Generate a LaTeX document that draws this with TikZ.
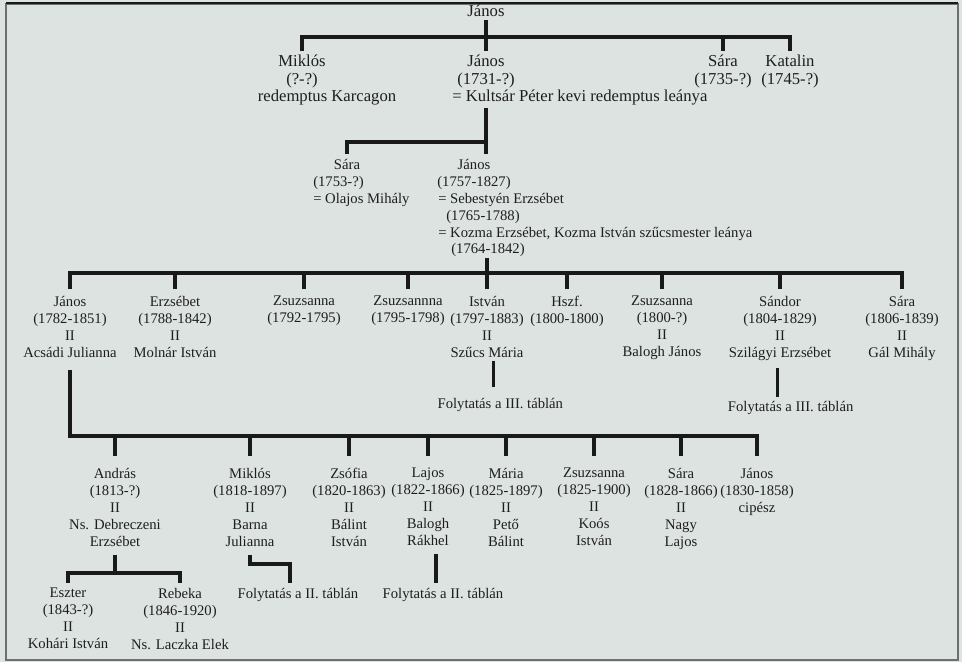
\documentclass[tikz,border=0pt]{standalone}
\usepackage{fontspec}
\setmainfont{Liberation Serif}
\usetikzlibrary{positioning}
\definecolor{paper}{RGB}{221,227,224}
\definecolor{ink}{RGB}{30,30,30}
\definecolor{wire}{RGB}{25,25,25}
\definecolor{frame}{RGB}{110,112,110}

\begin{document}
\begin{tikzpicture}[x=0.75pt, y=-0.75pt, node distance=30pt,
    person/.style={align=center, anchor=north, inner sep=0pt, text=ink,
        font=\fontsize{11}{12.75}\selectfont},
    elder/.style={person, font=\fontsize{12.5}{13.5}\selectfont},
    spouse/.style={person, anchor=north west, align=left},
    branch/.style={draw=wire, line width=2.6pt}
]
    \fill[paper] (0,0) rectangle (962,662);
    \useasboundingbox (0,0) rectangle (962,662);
    \draw[frame, line width=0.8pt] (6,4) rectangle (958,660);
    \draw[wire, line width=1.4pt] (6,3) -- (958,3);

    % bars of the generations
    \coordinate (bar0) at (0,37);
    \coordinate (bar1) at (0,142);
    \coordinate (bar2) at (0,273);
    \coordinate (bar3) at (0,436);
    \coordinate (bar4) at (0,573);

    % first two generations
    \node[elder] (root) at (486,5) {János};
    \node[elder] (miklosA) at (302,55) {Miklós\\(?-?)};
    \node[elder] (karcag) at (327,90) {redemptus Karcagon};
    \node[elder] (janosA) at (486,55) {János\\(1731-?)};
    \node[elder, anchor=north west] (kultsar) at (452,90) {= Kultsár Péter kevi redemptus leánya};
    \node[elder] (saraA) at (723,55) {Sára\\(1735-?)};
    \node[elder] (katalin) at (790,55) {Katalin\\(1745-?)};

    \draw[branch] ([yshift=-2pt]root.south) -- (root.south |- bar0);
    \draw[branch] ([yshift=3pt]miklosA.north) |- (janosA.north |- bar0) -| ([yshift=3pt]katalin.north);
    \foreach \n in {janosA, saraA}
        \draw[branch] (\n.north |- bar0) -- ([yshift=3pt]\n.north);

    % Sára and János (1757)
    \node[person] (saraB) at (347,159) {Sára};
    \node[spouse] (olajos) at (313,176) {(1753-?)\\= Olajos Mihály};
    \node[person] (janosB) at (474,159) {János\\(1757-1827)};
    \node[spouse] (sebestyen) at (438,193) {= Sebestyén Erzsébet};
    \node[person] (sebdates) at (483,210) {(1765-1788)};
    \node[spouse] (kozma) at (438,227) {= Kozma Erzsébet, Kozma István szűcsmester leánya};
    \node[person] (kozdates) at (488,243) {(1764-1842)};

    \draw[branch] ([yshift=-2pt]janosA.south |- kultsar.south) -- ([yshift=4pt]janosA.south |- janosB.north);
    \draw[branch] ([yshift=4pt]saraB.north) |- (janosA.south |- bar1);

    % children of János and Kozma Erzsébet
    \node[person] (janosC) at (70,296) {János\\(1782-1851)\\II\\Acsádi Julianna};
    \node[person] (erzsebet) at (175,296) {Erzsébet\\(1788-1842)\\II\\Molnár István};
    \node[person] (zsuzsaA) at (304,296) {Zsuzsanna\\(1792-1795)};
    \node[person] (zsuzsaB) at (408,296) {Zsuzsannna\\(1795-1798)};
    \node[person] (istvan) at (487,296) {István\\(1797-1883)\\II\\Szűcs Mária};
    \node[person] (hszf) at (567,296) {Hszf.\\(1800-1800)};
    \node[person] (zsuzsaC) at (662,296) {Zsuzsanna\\(1800-?)\\II\\Balogh János};
    \node[person] (sandor) at (780,296) {Sándor\\(1804-1829)\\II\\Szilágyi Erzsébet};
    \node[person] (saraC) at (902,296) {Sára\\(1806-1839)\\II\\Gál Mihály};

    \draw[branch] ([yshift=-1pt]istvan.north |- kozdates.south) -- ([yshift=5pt]istvan.north);
    \draw[branch] ([yshift=5pt]janosC.north) |- (saraC.north |- bar2) -- ([yshift=5pt]saraC.north);
    \foreach \n in {erzsebet, zsuzsaA, zsuzsaB, hszf, zsuzsaC, sandor}
        \draw[branch] (\n.north |- bar2) -- ([yshift=5pt]\n.north);

    \node[person, below=30pt of istvan, xshift=10pt] (contA) {Folytatás a III. táblán};
    \node[person, below=30pt of sandor, xshift=8pt] (contB) {Folytatás a III. táblán};
    \draw[branch] ([xshift=5pt,yshift=-2pt]istvan.south) -- ([xshift=5pt,yshift=8pt]istvan.south |- contA.north);
    \draw[branch] ([xshift=-2pt,yshift=-5pt]sandor.south) -- ([xshift=-2pt,yshift=3pt]sandor.south |- contB.north);

    % children of János and Acsádi Julianna
    \node[person] (andras) at (115,468) {András\\(1813-?)\\II\\Ns. Debreczeni\\Erzsébet};
    \node[person] (miklosD) at (250,468) {Miklós\\(1818-1897)\\II\\Barna\\Julianna};
    \node[person] (zsofia) at (349,468) {Zsófia\\(1820-1863)\\II\\Bálint\\István};
    \node[person] (lajos) at (428,468) {Lajos\\(1822-1866)\\II\\Balogh\\Rákhel};
    \node[person] (maria) at (506,468) {Mária\\(1825-1897)\\II\\Pető\\Bálint};
    \node[person] (zsuzsaD) at (594,468) {Zsuzsanna\\(1825-1900)\\II\\Koós\\István};
    \node[person] (saraD) at (681,468) {Sára\\(1828-1866)\\II\\Nagy\\Lajos};
    \node[person] (janosD) at (757,468) {János\\(1830-1858)\\cipész};

    \draw[branch] ([yshift=-9pt]janosC.south) |- (janosD.north |- bar3) -- ([yshift=9pt]janosD.north);
    \foreach \n in {andras, miklosD, zsofia, lajos, maria, zsuzsaD, saraD}
        \draw[branch] (\n.north |- bar3) -- ([yshift=9pt]\n.north);

    % grandchildren
    \node[person] (eszter) at (68,588) {Eszter\\(1843-?)\\II\\Kohári István};
    \node[person] (rebeka) at (180,588) {Rebeka\\(1846-1920)\\II\\Ns. Laczka Elek};
    \node[person] (contC) at (298,588) {Folytatás a II. táblán};
    \node[person] (contD) at (443,588) {Folytatás a II. táblán};

    \draw[branch] ([yshift=-6pt]andras.south) -- (andras.south |- bar4);
    \draw[branch] ([yshift=4pt]eszter.north) |- (rebeka.north |- bar4) -- ([yshift=4pt]rebeka.north);
    \draw[branch] ([yshift=-6pt]miklosD.south) -- ++(0,9) -| ([xshift=-6pt,yshift=4pt]contC.north);
    \draw[branch] ([xshift=6pt,yshift=-6pt]lajos.south) -- ([xshift=6pt,yshift=4pt]lajos.south |- contD.north);
\end{tikzpicture}
\end{document}
